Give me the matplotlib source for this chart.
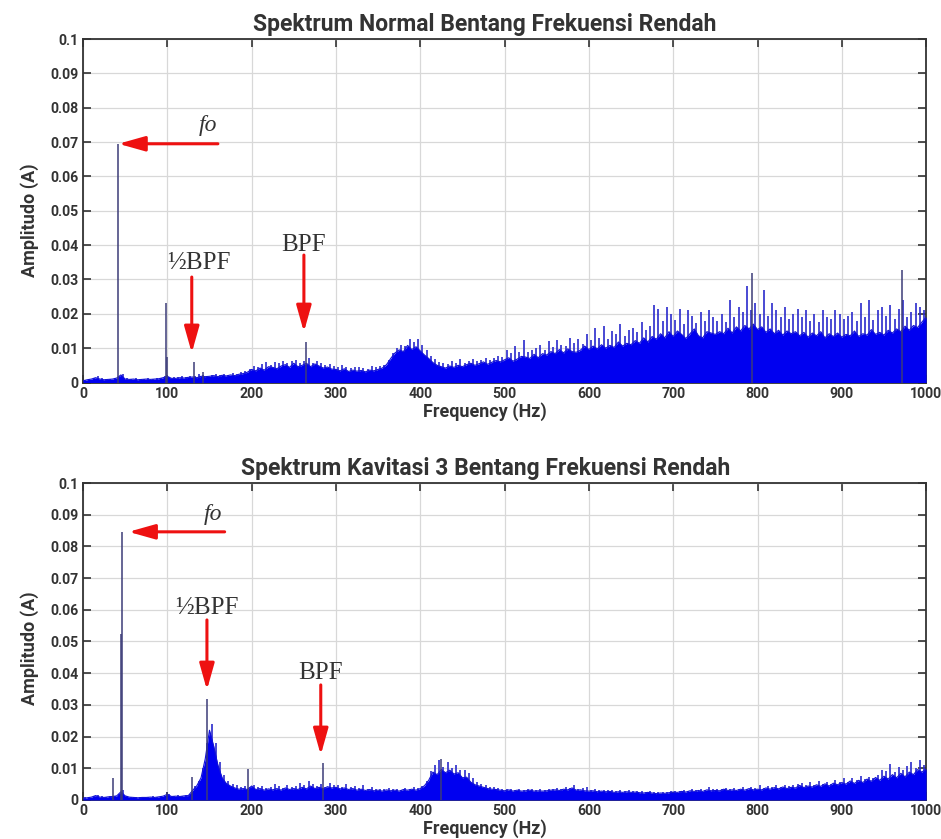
import numpy as np
import matplotlib
matplotlib.use("Agg")
import matplotlib.pyplot as plt

# ---------------- data (amplitudes in mA, converted to A below) ----------------
freq_step_hz = 5
freq_max_hz = 1000

# top of the dense noise mass, every 5 Hz from 0 to 1000 Hz
normal_env_mA = [
    0.5, 0.8, 1.0, 1.4, 1.0, 0.8, 0.9, 1.0, 1.3, 2.2,
    1.0, 0.9, 1.0, 0.8, 0.9, 1.0, 0.9, 1.0, 1.1, 1.4,
    1.8, 1.2, 1.2, 1.4, 1.3, 1.5, 1.6, 1.4, 1.8, 1.7,
    1.8, 2.0, 1.7, 2.1, 1.9, 2.2, 2.0, 2.4, 2.6, 3.0,
    3.8, 3.4, 4.2, 3.6, 4.6, 4.4, 4.0, 4.8, 5.2, 4.4,
    5.6, 4.6, 5.0, 5.6, 4.6, 5.4, 4.8, 4.2, 4.5, 3.9,
    3.8, 3.4, 4.0, 3.2, 3.6, 3.3, 3.5, 3.1, 3.6, 3.4,
    3.8, 4.2, 5.2, 7.0, 8.6, 9.5, 9.0, 10.8, 9.6, 10.4,
    9.2, 8.0, 7.0, 5.8, 5.0, 4.6, 4.2, 4.8, 4.4, 5.0,
    4.6, 5.2, 5.6, 5.0, 5.5, 6.0, 5.3, 5.9, 6.4, 6.0,
    6.6, 7.2, 6.2, 6.8, 7.6, 7.4, 7.0, 8.2, 7.2, 8.4,
    8.0, 9.0, 8.4, 9.6, 8.6, 9.8, 9.0, 8.8, 9.4, 10.6,
    9.6, 10.6, 9.8, 11.0, 10.0, 10.8, 10.2, 11.8, 10.6, 11.4,
    11.0, 12.2, 11.4, 13.0, 11.8, 13.4, 12.6, 14.2, 13.0, 14.8,
    13.4, 15.0, 14.0, 12.8, 14.2, 15.6, 13.6, 13.0, 14.8, 14.4,
    14.0, 14.8, 14.2, 15.8, 14.4, 16.2, 15.0, 16.6, 15.6, 17.0,
    15.4, 16.2, 14.6, 15.6, 14.2, 15.2, 13.8, 15.0, 14.2, 14.8,
    13.6, 14.6, 13.2, 14.4, 13.6, 14.8, 13.0, 14.2, 13.4, 14.4,
    13.2, 14.0, 13.6, 15.0, 13.4, 14.2, 13.8, 15.4, 14.0, 14.6,
    13.8, 15.2, 14.4, 15.6, 14.8, 16.4, 15.2, 16.6, 16.0, 17.6,
    19.0,
]
# noise tips rising above the mass, one every 5 Hz from 2.5 Hz to 997.5 Hz
normal_tips_mA = [
    0.8, 1.0, 1.4, 1.8, 1.2, 1.0, 1.1, 1.3, 1.8, 2.5,
    1.2, 1.1, 1.2, 1.0, 1.1, 1.2, 1.1, 1.2, 1.4, 1.8,
    1.6, 1.5, 1.6, 1.8, 1.5, 1.8, 1.9, 2.6, 2.2, 2.0,
    2.2, 2.4, 2.1, 2.6, 2.3, 2.7, 2.5, 3.0, 3.4, 4.0,
    4.8, 4.4, 5.4, 6.0, 5.2, 6.0, 5.6, 6.2, 5.8, 6.4,
    6.6, 5.8, 6.4, 7.0, 5.8, 6.2, 5.6, 5.2, 5.4, 4.8,
    4.6, 5.0, 4.6, 4.2, 4.6, 4.4, 4.3, 4.0, 4.8, 4.4,
    4.8, 5.2, 6.6, 8.5, 10.0, 11.0, 10.6, 12.6, 11.8, 12.8,
    11.0, 9.6, 7.8, 6.8, 6.0, 5.6, 5.4, 6.2, 5.8, 6.8,
    5.8, 6.4, 6.8, 6.2, 6.6, 7.2, 6.6, 7.2, 7.6, 7.4,
    9.5, 8.6, 10.5, 9.0, 12.3, 8.8, 9.4, 10.0, 11.0, 9.6,
    12.0, 10.4, 12.5, 11.0, 10.6, 13.0, 11.4, 12.8, 11.2, 14.0,
    12.4, 16.0, 13.0, 16.5, 12.8, 15.0, 14.2, 17.0, 13.6, 15.4,
    16.0, 14.6, 17.5, 15.2, 16.4, 22.5, 21.5, 18.0, 22.0, 20.0,
    18.2, 21.5, 17.0, 21.0, 19.5, 17.4, 20.5, 18.0, 21.0, 19.0,
    18.0, 20.0, 17.6, 24.0, 19.0, 22.0, 20.5, 28.0, 21.0, 23.0,
    20.0, 27.0, 19.5, 23.0, 21.0, 19.0, 22.0, 18.5, 20.0, 21.5,
    19.0, 21.0, 18.0, 20.0, 17.6, 21.0, 19.2, 18.4, 21.0, 20.0,
    18.6, 19.5, 20.5, 17.8, 23.0, 19.0, 24.0, 18.2, 21.0, 22.0,
    19.4, 22.5, 18.6, 21.5, 24.0, 19.0, 20.5, 23.0, 22.0, 21.0,
]
# isolated spectral lines
normal_peak_hz = [42, 99, 99.5, 132, 142, 264, 793, 971]
normal_peak_mA = [69.5, 23.2, 7.5, 6.0, 3.0, 11.7, 32.0, 32.8]

kavitasi_env_mA = [
    0.5, 0.7, 0.9, 1.4, 0.9, 0.8, 1.0, 1.1, 1.3, 2.6,
    1.3, 0.9, 0.8, 0.7, 0.8, 0.8, 0.9, 0.8, 1.0, 1.2,
    1.8, 1.1, 1.2, 1.1, 1.3, 1.4, 3.0, 4.5, 7.0, 13.0,
    22.0, 17.0, 11.0, 7.0, 5.2, 4.4, 3.8, 3.4, 3.6, 3.3,
    4.4, 3.3, 3.6, 3.1, 3.5, 3.2, 3.6, 3.1, 3.8, 3.3,
    3.6, 3.3, 4.0, 3.5, 4.4, 3.6, 4.0, 3.5, 4.2, 3.8,
    4.0, 3.5, 3.8, 3.3, 3.6, 3.1, 3.4, 3.0, 3.3, 2.9,
    3.1, 2.8, 3.2, 2.9, 3.1, 2.8, 3.3, 3.1, 3.4, 3.1,
    3.6, 4.5, 6.2, 8.8, 8.0, 9.6, 8.6, 9.4, 8.2, 8.6,
    7.0, 7.2, 5.6, 4.8, 4.4, 4.0, 3.6, 3.4, 3.3, 3.1,
    2.9, 3.2, 2.8, 3.1, 2.8, 2.9, 3.1, 2.8, 2.9, 2.8,
    2.9, 3.1, 3.2, 3.0, 3.4, 3.2, 3.8, 3.1, 3.2, 2.9,
    2.8, 2.9, 2.6, 2.8, 2.6, 2.7, 2.4, 2.6, 2.4, 2.6,
    2.4, 2.5, 2.3, 2.2, 2.4, 2.2, 2.0, 2.2, 2.1, 2.3,
    2.5, 2.4, 2.7, 2.5, 2.9, 2.7, 3.0, 2.7, 3.2, 2.9,
    3.0, 2.9, 3.4, 3.0, 3.2, 3.0, 3.4, 3.1, 3.6, 3.2,
    3.4, 3.2, 3.8, 3.4, 3.9, 3.5, 4.1, 3.6, 4.0, 3.8,
    4.6, 3.9, 4.4, 4.1, 4.8, 4.3, 5.1, 4.4, 5.3, 4.8,
    5.5, 5.0, 6.0, 5.2, 6.2, 5.5, 6.6, 5.9, 7.1, 6.2,
    7.5, 6.6, 8.0, 7.0, 8.4, 7.3, 8.8, 8.0, 9.6, 8.8,
    9.8,
]
kavitasi_tips_mA = [
    0.8, 1.0, 1.3, 1.7, 1.1, 1.0, 1.2, 1.4, 1.8, 3.0,
    1.4, 1.0, 0.9, 0.9, 1.0, 0.9, 1.1, 1.0, 1.2, 1.4,
    2.0, 1.4, 1.5, 1.4, 1.6, 1.8, 4.5, 6.0, 10.0, 18.0,
    24.0, 18.0, 12.0, 8.0, 6.0, 5.2, 4.6, 4.2, 4.4, 4.0,
    4.6, 4.0, 4.4, 3.8, 4.2, 5.0, 4.4, 3.8, 4.6, 4.2,
    4.4, 5.5, 4.6, 6.0, 5.0, 4.4, 5.0, 4.2, 5.5, 4.6,
    4.6, 4.0, 5.0, 4.2, 4.4, 3.8, 4.6, 3.6, 4.0, 3.6,
    3.6, 3.4, 3.8, 3.4, 3.6, 3.3, 3.8, 3.6, 4.0, 3.8,
    4.4, 6.0, 9.0, 11.0, 12.5, 10.5, 12.0, 10.0, 11.0, 9.5,
    9.5, 8.5, 7.0, 5.6, 5.0, 4.6, 4.2, 4.0, 3.8, 3.6,
    3.4, 3.6, 3.2, 3.5, 3.2, 3.4, 3.6, 3.2, 3.4, 3.2,
    3.4, 3.6, 3.7, 3.5, 4.0, 3.8, 4.8, 3.6, 3.7, 4.2,
    3.2, 3.4, 3.0, 3.2, 3.0, 3.1, 2.8, 3.0, 2.8, 3.0,
    2.8, 2.9, 2.7, 2.6, 2.8, 2.6, 2.4, 2.6, 2.5, 2.7,
    2.9, 2.8, 3.1, 2.9, 3.4, 3.1, 3.5, 3.2, 4.2, 3.4,
    3.5, 3.4, 3.9, 3.5, 3.8, 3.5, 4.0, 3.6, 4.2, 3.8,
    4.8, 3.8, 4.4, 4.0, 4.6, 4.2, 4.8, 4.3, 4.6, 5.2,
    5.4, 4.6, 5.8, 4.8, 6.0, 5.0, 5.6, 5.2, 6.2, 5.6,
    6.8, 5.8, 7.0, 6.2, 7.5, 6.6, 7.2, 6.8, 8.0, 9.5,
    9.0, 11.5, 8.8, 10.5, 9.4, 10.8, 12.0, 10.0, 12.5, 11.0,
]
kavitasi_peak_hz = [36, 45, 46.5, 100, 129.5, 147, 196, 285, 425]
kavitasi_peak_mA = [6.8, 52.5, 84.5, 2.6, 7.3, 32.0, 9.8, 11.6, 13.0]

titles = ["Spektrum Normal Bentang Frekuensi Rendah",
          "Spektrum Kavitasi 3 Bentang Frekuensi Rendah"]
x_ticks = [0, 100, 200, 300, 400, 500, 600, 700, 800, 900, 1000]
y_ticks = [0, 0.01, 0.02, 0.03, 0.04, 0.05, 0.06, 0.07, 0.08, 0.09, 0.1]
y_tick_labels = ["0", "0.01", "0.02", "0.03", "0.04", "0.05", "0.06", "0.07", "0.08", "0.09", "0.1"]

# annotations: (label, text_x, text_y, arrow_tail_x, arrow_tail_y, arrow_head_x, arrow_head_y, italic)
normal_notes = [
    ("fo", 148, 0.0749, 160, 0.0695, 42, 0.0695, True),
    ("\u00bdBPF", 137, 0.0347, 129, 0.0307, 129, 0.0086, False),
    ("BPF", 261, 0.0400, 262, 0.0371, 262, 0.0147, False),
]
kavitasi_notes = [
    ("fo", 154, 0.0900, 168, 0.0846, 54, 0.0846, True),
    ("\u00bdBPF", 147, 0.0606, 147, 0.0568, 147, 0.0347, False),
    ("BPF", 282, 0.0400, 282, 0.0363, 282, 0.0142, False),
]

# ---------------- drawing ----------------
sans = ["Roboto", "DejaVu Sans"]
serif = ["Liberation Serif", "DejaVu Serif"]
ink = "#333333"

fig = plt.figure(figsize=(9.41, 8.39), dpi=100)
ax_top = fig.add_axes([0.0882, 0.5441, 0.8960, 0.4094])
ax_bot = fig.add_axes([0.0882, 0.0465, 0.8960, 0.3778])

freqs = np.arange(0, freq_max_hz + freq_step_hz, freq_step_hz)
tip_freqs = freqs[:-1] + freq_step_hz / 2.0

panels = [
    (ax_top, normal_env_mA, normal_tips_mA, normal_peak_hz, normal_peak_mA, titles[0], normal_notes, 0.473),
    (ax_bot, kavitasi_env_mA, kavitasi_tips_mA, kavitasi_peak_hz, kavitasi_peak_mA, titles[1], kavitasi_notes, 0.48),
]

for ax, env_mA, tips_mA, pk_f, pk_mA, title, notes, ylab_y in panels:
    env = np.array(env_mA) / 1000.0
    tips = np.array(tips_mA) / 1000.0
    pk = np.array(pk_mA) / 1000.0
    ax.vlines(tip_freqs, 0, tips, color="#2a2acc", lw=1.2, zorder=3)
    ax.fill_between(freqs, 0, env, color="#0000f0", lw=0, zorder=4)
    ax.plot(freqs, env, color="#1212d8", lw=0.8, zorder=4)
    ax.vlines(pk_f, 0, pk, color="#3c3c78", lw=1.1, zorder=5)

    ax.set_xlim(0, 1000)
    ax.set_ylim(0, 0.1)
    ax.set_xticks(x_ticks)
    ax.set_xticklabels([str(t) for t in x_ticks])
    ax.set_yticks(y_ticks)
    ax.set_yticklabels(y_tick_labels)
    ax.grid(True, color="#d8d8d8", lw=0.9, zorder=0)
    ax.set_axisbelow(True)
    ax.tick_params(direction="in", length=6, width=1.2, color=ink,
                   top=True, right=True, labelsize=10.2, pad=3)
    for lab in ax.get_xticklabels() + ax.get_yticklabels():
        lab.set_family(sans)
        lab.set_fontweight("bold")
        lab.set_color(ink)
    for sp in ax.spines.values():
        sp.set_color(ink)
        sp.set_linewidth(1.3)

    ax.set_title(title, family=sans, fontweight="bold", fontsize=16.5, color=ink,
                 pad=6, x=0.477)
    ax.set_xlabel("Frequency (Hz)", family=sans, fontweight="bold", fontsize=13,
                  color=ink, labelpad=1, x=0.477)
    ax.set_ylabel("Amplitudo (A)", family=sans, fontweight="bold", fontsize=13,
                  color=ink, labelpad=8, y=ylab_y)

    for label, tx, ty, x0, y0, x1, y1, ital in notes:
        ax.annotate("", xy=(x1, y1), xytext=(x0, y0),
                    arrowprops=dict(arrowstyle="-|>,head_length=1.6,head_width=0.45",
                                    color="#ee1111", lw=2.2, mutation_scale=10,
                                    shrinkA=0, shrinkB=0), zorder=6)
        ax.text(tx, ty, label, family=serif, fontsize=17 if ital else 18,
                style="italic" if ital else "normal", color=ink,
                ha="center", va="center", zorder=6)

fig.savefig("out.png", dpi=100)
